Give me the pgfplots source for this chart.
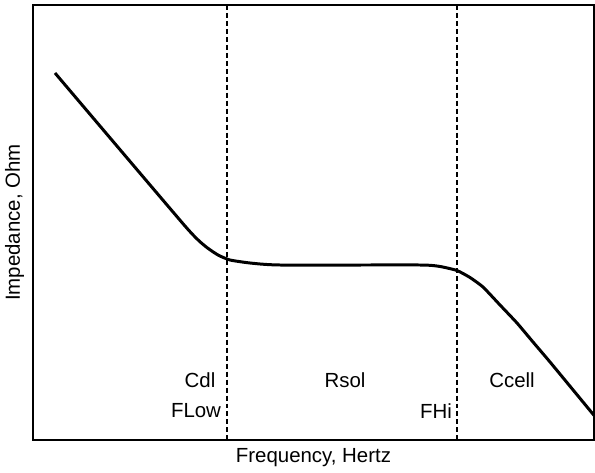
\documentclass[border=0pt]{standalone}
\usepackage{fontspec}
\setmainfont{Liberation Sans}
\usepackage{pgfplots}
\pgfplotsset{compat=1.18}
\begin{document}
\fontsize{20.5pt}{24pt}\selectfont
\begin{tikzpicture}
\useasboundingbox (-33bp,-33bp) rectangle (562bp,440bp);
\begin{axis}[
  scale only axis, width=561bp, height=435bp,
  xmin=33, xmax=594, ymin=5, ymax=440, y dir=reverse,
  xtick=\empty, ytick=\empty,
  axis line style={line width=1.3pt},
  xlabel={Frequency, Hertz}, ylabel={Impedance, Ohm},
  xlabel style={at={(axis description cs:0.5,-0.041)},anchor=center},
  ylabel style={at={(axis description cs:-0.033,0.5)},anchor=center},
  clip=true,
]
\addplot[black, line width=3pt, smooth, tension=0.3] coordinates {
(55,73) (185,226) (205,246) (218,255) (230,260) (250,263) (280,265) (420,265) (440,266.5) (457,270.5) (470,277.5) (483,287) (500,305) (517,323) (533,342) (550,362) (583,402) (597,419)};
\addplot[black, dash pattern=on 5pt off 3pt, line width=1.2pt] coordinates {(227,5) (227,440)};
\addplot[black, dash pattern=on 5pt off 3pt, line width=1.2pt] coordinates {(457,5) (457,440)};
\node at (axis cs:200,380) {Cdl};
\node at (axis cs:345,380) {Rsol};
\node at (axis cs:512,380) {Ccell};
\node at (axis cs:196,411) {FLow};
\node at (axis cs:436,411) {FHi};
\end{axis}
\end{tikzpicture}
\end{document}
